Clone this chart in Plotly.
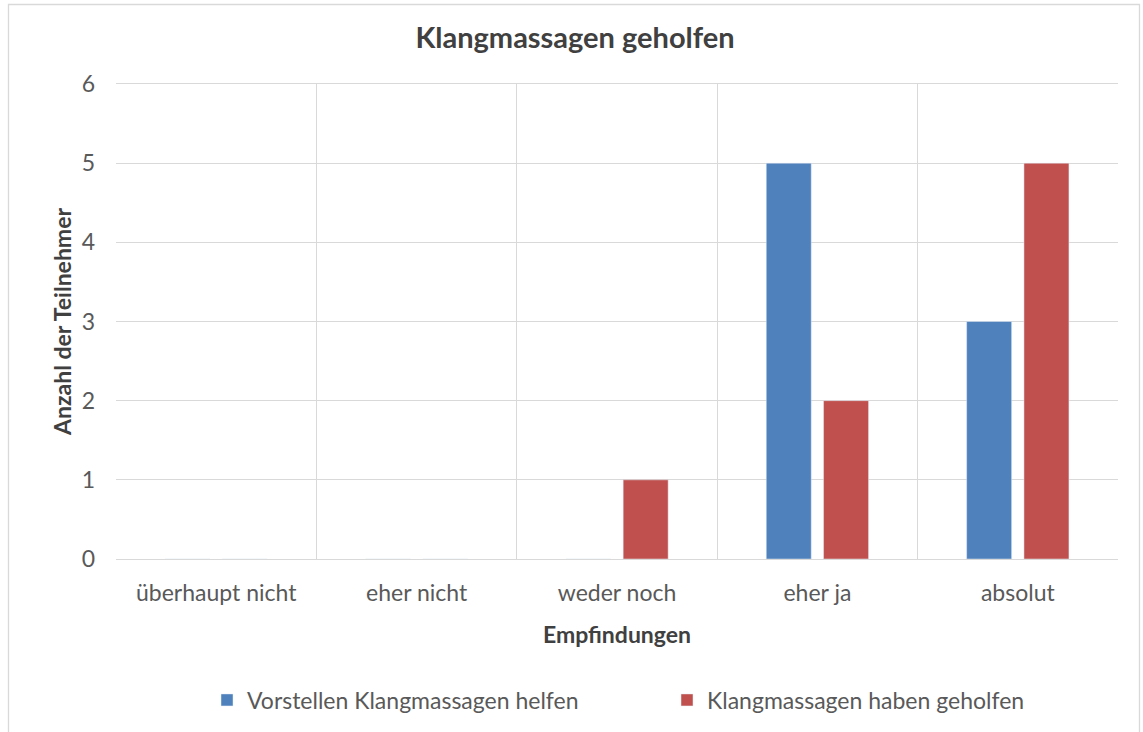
import plotly.graph_objects as go

categories = ["überhaupt nicht", "eher nicht", "weder noch", "eher ja", "absolut"]
series_names = ["Vorstellen Klangmassagen helfen", "Klangmassagen haben geholfen"]
vorstellen = [0, 0, 0, 5, 3]
geholfen = [0, 0, 1, 2, 5]
y_ticks = [0, 1, 2, 3, 4, 5, 6]

W, H = 1143, 732
L, R, T, B = 116, 1118, 84, 559
FONT = "Lato"
GRAY = "#595959"
GRID = "#D9D9D9"
FS = 23

fig = go.Figure()
fig.add_trace(go.Bar(x=categories, y=vorstellen, name=series_names[0], marker_color="#4F81BD"))
fig.add_trace(go.Bar(x=categories, y=geholfen, name=series_names[1], marker_color="#C0504D"))

pw = R - L
ph = B - T
fig.add_shape(type="rect", xref="paper", yref="paper",
              x0=(8.5 - L) / pw, x1=(1139.5 - L) / pw,
              y0=(B - 745) / ph, y1=(B - 4.5) / ph,
              line=dict(color=GRID, width=1.3), layer="below")

fig.update_layout(
    width=W, height=H,
    margin=dict(l=L, r=W - R, t=T, b=H - B, autoexpand=False),
    paper_bgcolor="white", plot_bgcolor="white",
    font=dict(family=FONT, color=GRAY, size=FS),
    barmode="group", bargap=0.428, bargroupgap=0.215,
    title=dict(text="<b>Klangmassagen geholfen</b>", x=575 / W, xref="container", xanchor="center",
               y=1 - 38 / H, yref="container", yanchor="middle",
               font=dict(family=FONT, size=29, color="#404040")),
    xaxis=dict(type="category", tickson="boundaries", showgrid=True, gridcolor=GRID, gridwidth=1,
               showline=True, linecolor=GRID, linewidth=1, mirror=True, ticks="",
               ticklabelstandoff=13, automargin=False,
               title=dict(text="<b>Empfindungen</b>", standoff=22, font=dict(size=FS, color="#404040"))),
    yaxis=dict(range=[0, 6], tickvals=y_ticks, showgrid=True, gridcolor=GRID, gridwidth=1,
               zeroline=False, showline=False, ticks="", ticklabelstandoff=20, automargin=False,
               title=dict(text="<b>Anzahl der Teilnehmer</b>", standoff=3, font=dict(size=FS, color="#404040"))),
    legend=dict(orientation="h", x=(221 - 14 - L) / pw, xanchor="left",
                y=(B - 700) / ph, yanchor="middle", entrywidth=415, entrywidthmode="pixels",
                bgcolor="rgba(0,0,0,0)",
                font=dict(size=FS, color=GRAY), itemclick=False),
    showlegend=True,
)

fig.write_html("out.html", config={"displayModeBar": False},
               post_script="document.body.style.margin='0';document.body.style.overflow='hidden';")
